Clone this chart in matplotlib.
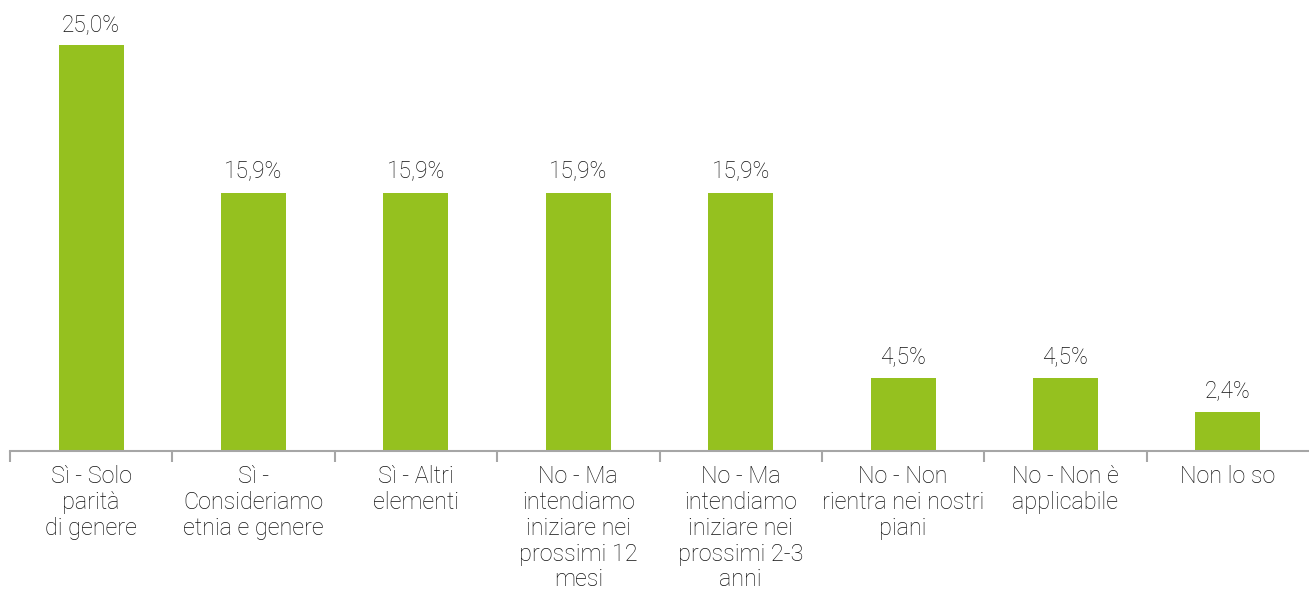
import matplotlib
matplotlib.use("Agg")
import matplotlib.pyplot as plt
import numpy as np

plt.rcParams['font.family'] = ['Roboto', 'DejaVu Sans']

categories = [
    "Sì - Solo\nparità\ndi genere",
    "Sì -\nConsideriamo\netnia e genere",
    "Sì - Altri\nelementi",
    "No - Ma\nintendiamo\niniziare nei\nprossimi 12\nmesi",
    "No - Ma\nintendiamo\niniziare nei\nprossimi 2-3\nanni",
    "No - Non\nrientra nei nostri\npiani",
    "No - Non è\napplicabile",
    "Non lo so",
]
values = [25.0, 15.9, 15.9, 15.9, 15.9, 4.5, 4.5, 2.4]

bar_color = "#95C11F"
text_color = "#111111"
axis_color = "#A6A6A6"

fig = plt.figure(figsize=(13.09, 5.92), dpi=100)
ax = fig.add_axes([10 / 1309, 141 / 592, 1 - 10 / 1309, 451 / 592])

x = np.arange(len(categories))
bars = ax.bar(x, values, width=0.4, color=bar_color)

for b, v in zip(bars, values):
    ax.annotate(f"{v:.1f}%".replace(".", ","),
                (b.get_x() + b.get_width() / 2, v),
                xytext=(0, 7), textcoords="offset points",
                ha="center", va="bottom", fontsize=16.3,
                fontweight="light", color=text_color)

ax.set_xlim(-0.5, len(categories) - 0.5)
ax.set_ylim(0, 27.8)

# category labels centred, tick marks at the boundaries
ax.set_xticks(x)
ax.set_xticklabels(categories, fontsize=16.8, fontweight="light",
                   color=text_color, linespacing=1.16)
ax.tick_params(axis="x", length=0, pad=10)
ax.set_xticks(np.arange(len(categories)) - 0.5, minor=True)
ax.tick_params(axis="x", which="minor", length=8, width=1.5, color=axis_color)

ax.set_yticks([])
for side in ("top", "right", "left"):
    ax.spines[side].set_visible(False)
ax.spines["bottom"].set_color(axis_color)
ax.spines["bottom"].set_linewidth(1.5)

fig.savefig("out.png", dpi=100)
